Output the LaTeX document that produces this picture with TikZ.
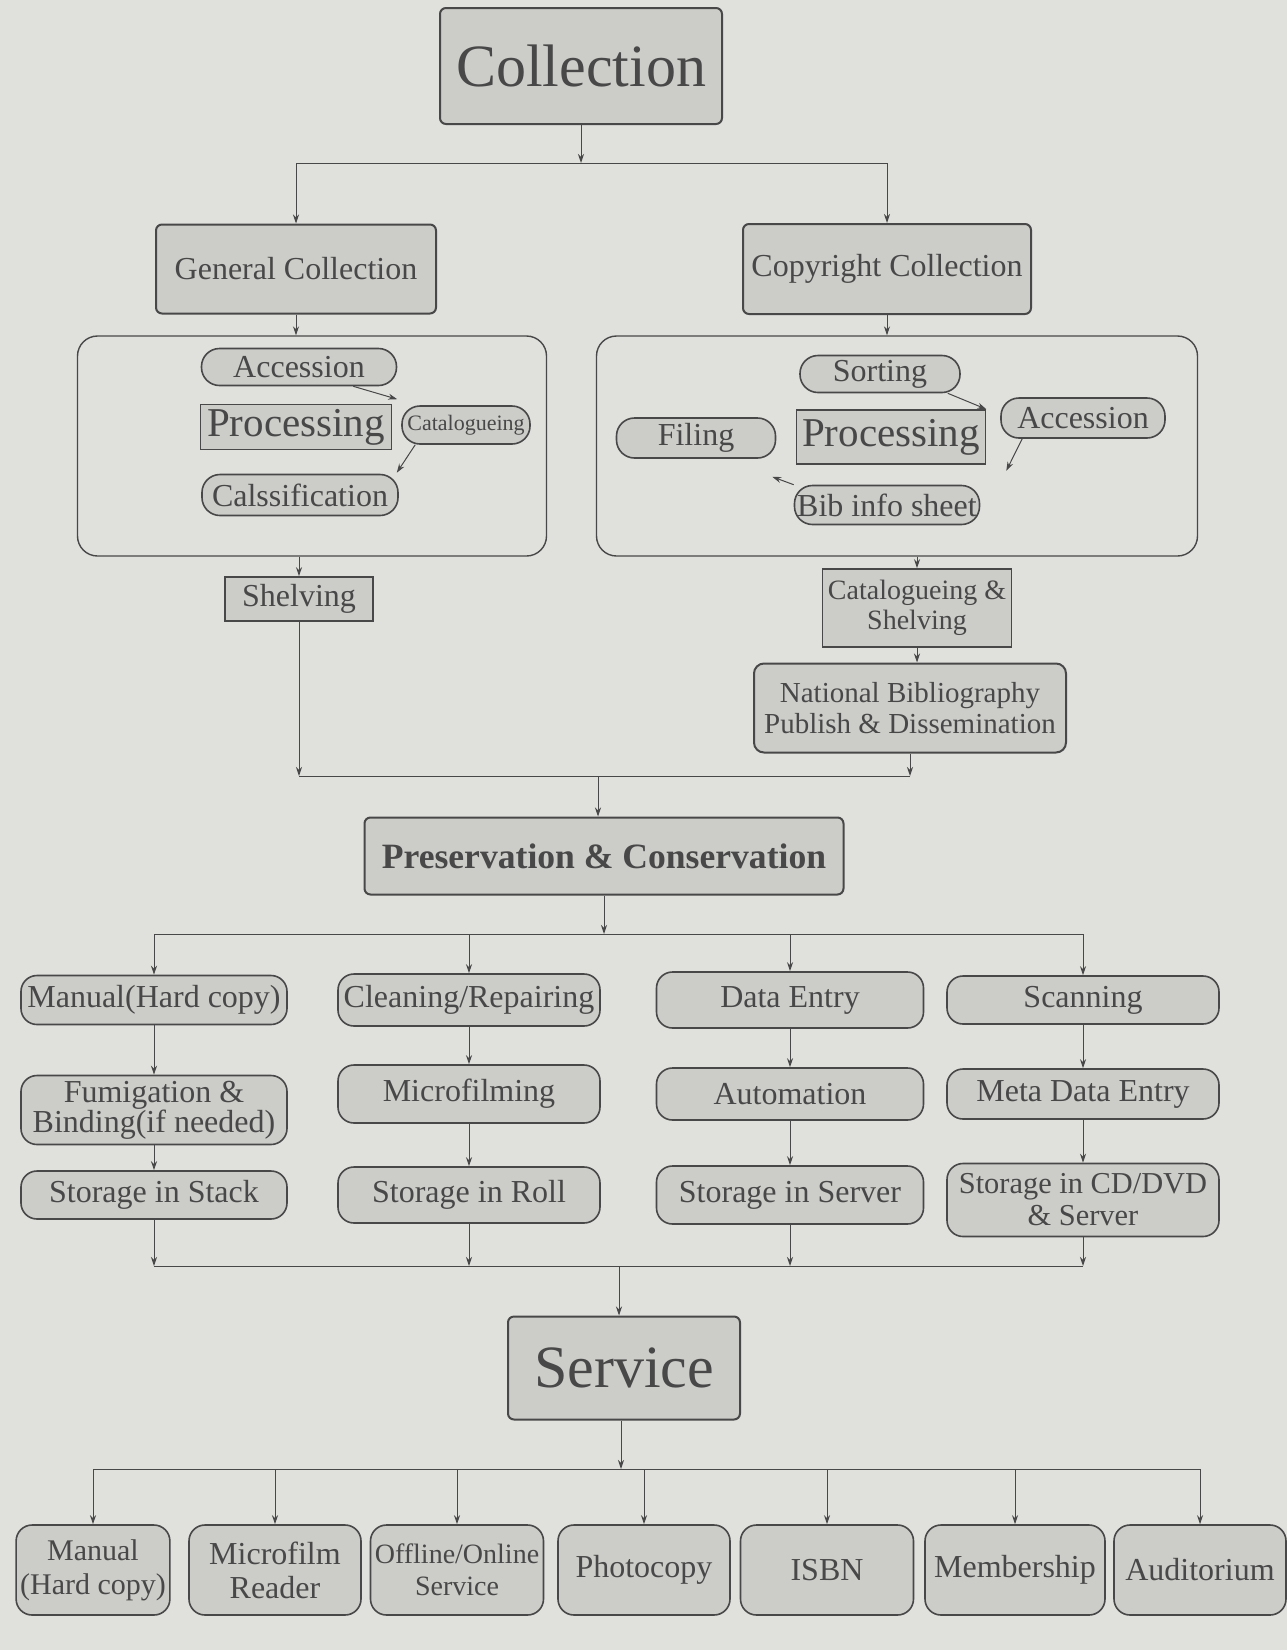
\documentclass[tikz,border=0pt]{standalone}
\usepackage{fontspec}
\setmainfont{Liberation Serif}
\usetikzlibrary{arrows.meta,positioning}

\definecolor{paper}{RGB}{224,224,221}
\definecolor{boxfill}{RGB}{204,204,201}
\definecolor{ink}{RGB}{72,72,72}

\begin{document}
\begin{tikzpicture}[
  x=0.5pt, y=-0.5pt,
  color=ink,
  font=\fontsize{16}{15}\selectfont,
  head/.style={draw, line width=1pt, rounded corners=3pt, fill=boxfill, font=\fontsize{30}{30}\selectfont},
  sect/.style={draw, line width=1pt, rounded corners=3pt, fill=boxfill, align=center},
  pill/.style={draw, line width=0.8pt, rounded corners=9pt, fill=boxfill, inner sep=1pt, font=\fontsize{16}{15}\selectfont},
  proc/.style={draw, line width=0.8pt, fill=boxfill, inner sep=1pt, font=\fontsize{20.5}{20}\selectfont},
  plainbox/.style={draw, line width=0.8pt, fill=boxfill, inner sep=2pt, align=center},
  task/.style={draw, line width=0.8pt, rounded corners=8pt, fill=boxfill, inner sep=2pt, align=center},
  serv/.style={task, minimum width=86pt, minimum height=45pt},
  frame/.style={draw, line width=0.7pt, rounded corners=10pt},
  link/.style={line width=0.5pt},
  arr/.style={link, -{Stealth[length=4.5pt,width=3pt]}}
]
  \fill[paper] (0,0) rectangle (1287,1650);
  \useasboundingbox (0,0) rectangle (1287,1650);

  % collection
  \node[head, minimum width=141pt, minimum height=58pt] (coll) at (581,66) {Collection};
  \coordinate (bus1) at (581,163);
  \node[sect, minimum width=140pt, minimum height=44.5pt] (gen) at (296,269) {General Collection};
  \node[sect, minimum width=144pt, minimum height=45pt] (copy) at (887,269) {Copyright Collection};

  \node[frame, minimum width=234.5pt, minimum height=110pt] (lbox) at (312,446) {};
  \node[frame, minimum width=300.5pt, minimum height=110pt] (rbox) at (897,446) {};

  % general processing
  \node[pill, minimum width=97.5pt, minimum height=18.5pt] (accl) at (299,367) {Accession};
  \node[proc, minimum width=95.5pt, minimum height=22.5pt] (procl) at (296,427) {Processing};
  \node[pill, font=\fontsize{11}{11}\selectfont, minimum width=64pt, minimum height=19pt] (catl) at (466,425) {Catalogueing};
  \node[pill, minimum width=98pt, minimum height=20.5pt] (clsl) at (300,495) {Calssification};

  % copyright processing
  \node[pill, minimum width=80pt, minimum height=18.5pt] (sort) at (880,374) {Sorting};
  \node[pill, minimum width=79.5pt, minimum height=20pt] (fil) at (696,438) {Filing};
  \node[proc, minimum width=94.5pt, minimum height=27pt] (procr) at (891,437) {Processing};
  \node[pill, minimum width=82pt, minimum height=20pt] (accr) at (1083,418) {Accession};
  \node[pill, minimum width=92.5pt, minimum height=19.5pt] (bib) at (887,505) {Bib info sheet};

  \node[plainbox, minimum width=74pt, minimum height=22pt] (shelv) at (299,599) {Shelving};
  \node[plainbox, minimum width=94.5pt, minimum height=39pt, font=\fontsize{14}{15}\selectfont] (cat) at (917,608) {Catalogueing \&\\Shelving};
  \node[sect, rounded corners=5pt, minimum width=156pt, minimum height=44.5pt, font=\fontsize{14.5}{15.5}\selectfont] (nb) at (910,708) {National Bibliography\\Publish \& Dissemination};

  % preservation
  \coordinate (bus2) at (598,776);
  \node[sect, minimum width=239.5pt, minimum height=38.5pt, font=\bfseries\fontsize{17.8}{18}\selectfont] (pres) at (604,856) {Preservation \& Conservation};
  \coordinate (bus3) at (604,934);

  \node[task, minimum width=133pt, minimum height=24.5pt] (man) at (154,1000) {Manual(Hard copy)};
  \node[task, minimum width=131pt, minimum height=26pt] (clean) at (469,1000) {Cleaning/Repairing};
  \node[task, minimum width=133.5pt, minimum height=28pt] (dent) at (790,1000) {Data Entry};
  \node[task, minimum width=136pt, minimum height=24pt] (scan) at (1083,1000) {Scanning};

  \node[task, minimum width=133pt, minimum height=34.5pt] (fum) at (154,1110) {Fumigation \&\\Binding(if needed)};
  \node[task, minimum width=131pt, minimum height=29pt] (mfilm) at (469,1094) {Microfilming};
  \node[task, minimum width=133.5pt, minimum height=26pt] (auto) at (790,1094) {Automation};
  \node[task, minimum width=136pt, minimum height=25pt] (meta) at (1083,1094) {Meta Data Entry};

  \node[task, minimum width=133pt, minimum height=24pt] (stack) at (154,1195) {Storage in Stack};
  \node[task, minimum width=131pt, minimum height=28pt] (roll) at (469,1195) {Storage in Roll};
  \node[task, minimum width=133.5pt, minimum height=29pt] (server) at (790,1195) {Storage in Server};
  \node[task, minimum width=136pt, minimum height=36.5pt, font=\fontsize{15.2}{16}\selectfont] (cddvd) at (1083,1200) {Storage in CD/DVD\\\& Server};

  % service
  \coordinate (bus4) at (619,1266);
  \node[head, minimum width=116pt, minimum height=51.5pt] (srv) at (624,1368) {Service};
  \coordinate (bus5) at (621,1469);

  \node[serv, minimum width=74.5pt, font=\fontsize{15}{17}\selectfont] (dman) at (93,1570) {Manual\\(Hard copy)};
  \node[serv, font=\fontsize{16}{17}\selectfont] (dmic) at (275,1570) {Microfilm\\Reader};
  \node[serv, minimum width=86.5pt, inner sep=0.5pt, font=\fontsize{14}{16}\selectfont] (doff) at (457,1570) {Offline/Online\\Service};
  \node[serv] (dpho) at (644,1570) {Photocopy};
  \node[serv, minimum width=86.5pt] (disbn) at (827,1570) {ISBN};
  \node[serv, minimum width=90pt] (dmem) at (1015,1570) {Membership};
  \node[serv] (daud) at (1200,1570) {Auditorium};

  % connectors
  \draw[arr] (coll.south) -- (bus1);
  \draw[link] (bus1 -| gen) -- (bus1 -| copy);
  \draw[arr] (bus1 -| gen) -- (gen.north);
  \draw[arr] (bus1 -| copy) -- (copy.north);
  \draw[arr] (gen.south) -- (gen.south |- lbox.north);
  \draw[arr] (copy.south) -- (copy.south |- rbox.north);

  \draw[arr] ([xshift=-22pt]accl.south east) -- ([shift={(-4,-6)}]catl.north west);
  \draw[arr] ([xshift=7pt]catl.south west) -- ([shift={(-2,-1)}]clsl.north east);
  \draw[arr] ([xshift=-6.5pt]sort.south east) -- (procr.north east);
  \draw[arr] ([xshift=11pt]accr.south west) -- ([shift={(20,6)}]procr.south east);
  \draw[arr] (bib.north west) -- ([shift={(-4,18)}]fil.south east);

  \draw[arr] (lbox.south -| shelv) -- (shelv.north);
  \draw[arr] (rbox.south -| cat) -- (cat.north);
  \draw[arr] (cat.south) -- (cat.south |- nb.north);
  \draw[arr] (shelv.south) -- (shelv.south |- bus2);
  \draw[arr] (nb.south) -- (nb.south |- bus2);
  \draw[link] (bus2 -| shelv) -- (bus2 -| nb);
  \draw[arr] (bus2) -- (bus2 |- pres.north);

  \draw[arr] (pres.south) -- (bus3);
  \draw[link] (bus3 -| man) -- (bus3 -| scan);
  \foreach \n in {man,clean,dent,scan}
    \draw[arr] (bus3 -| \n) -- (\n.north);
  \foreach \a/\b in {man/fum,fum/stack,clean/mfilm,mfilm/roll,dent/auto,auto/server,scan/meta,meta/cddvd}
    \draw[arr] (\a.south) -- (\b.north);

  \foreach \n in {stack,roll,server,cddvd}
    \draw[arr] (\n.south) -- (\n.south |- bus4);
  \draw[link] (bus4 -| stack) -- (bus4 -| cddvd);
  \draw[arr] (bus4) -- (bus4 |- srv.north);

  \draw[arr] (srv.south -| bus5) -- (bus5);
  \draw[link] (bus5 -| dman) -- (bus5 -| daud);
  \foreach \n in {dman,dmic,doff,dpho,disbn,dmem,daud}
    \draw[arr] (bus5 -| \n) -- (\n.north);
\end{tikzpicture}
\end{document}
